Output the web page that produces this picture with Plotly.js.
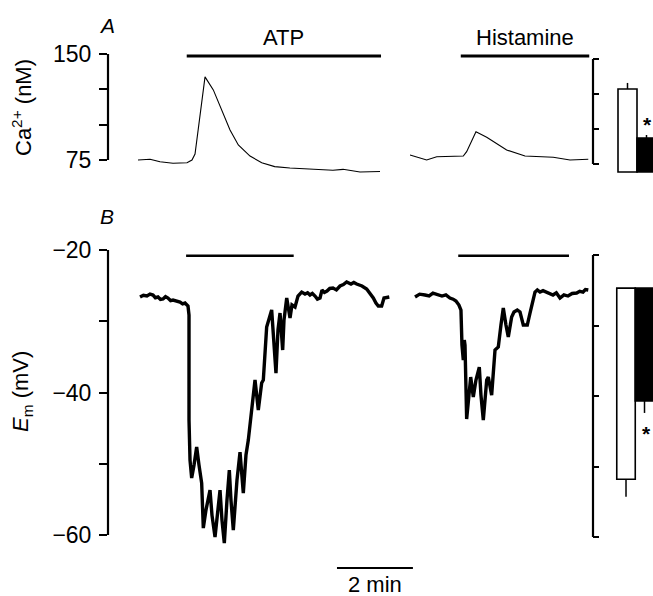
<!DOCTYPE html>
<html>
<head>
<meta charset="utf-8">
<script src="https://cdn.plot.ly/plotly-3.0.1.min.js"></script>
<style>html,body{margin:0;padding:0;background:#fff;}</style>
</head>
<body>
<div id="chart" style="width:653px;height:596px;"></div>
<script>
// ---- Panel A: [Ca2+]i (nM) vs time (s) ----
const tCaATP = [0, 19, 34.8, 55.3, 77.4, 85.3, 90.1, 98, 105.9, 119, 132.2, 145.4, 158.5, 177, 195.5, 216, 240, 276.5, 308, 324, 339.7, 350.8, 382.4];
const caATP  = [75.0, 75.5, 73.8, 72.7, 73.1, 75.0, 79.2, 105.4, 133.8, 124.6, 110.4, 96.2, 85.6, 77.8, 73.1, 70.3, 69.3, 68.4, 67.7, 68.4, 67.4, 66.5, 66.9];
const tCaHis = [429.8, 456.1, 472, 514, 519.3, 534, 551, 566.7, 582.5, 611.5, 656.2, 682.6, 711.5];
const caHis  = [78.5, 75.0, 77.3, 77.8, 80.9, 95.0, 91.1, 86.8, 82.1, 77.8, 76.9, 75.0, 75.5];

// ---- Panel B: Em (mV) vs time (s) ----
const tEmATP = [3.2, 8.5, 14.2, 19, 23.7, 27.5, 31.6, 35.5, 39.5, 43.5, 47.4, 51.5, 55.3, 61, 66.4, 70.5, 74.3, 79.0, 80.6, 80.6, 80.6, 82.2, 84.8, 88.5, 92.7, 96.4, 100.6, 103.2, 107.4, 113.8, 116.9, 121.7, 126.4, 129.6, 132.7, 136.4, 140.6, 144.3, 146.9, 150.6, 156.4, 161.2, 166.4, 170.6, 174.3, 179.6, 184.9, 190.1, 195.4, 198.0, 203.3, 211.2, 214.9, 218.0, 221.2, 224.4, 228.6, 230.7, 235.0, 240.2, 243.3, 248.1, 252.8, 258.6, 263.9, 268, 271.8, 275.5, 279.7, 283.5, 287.6, 290.7, 294.5, 298.6, 303, 308.1, 313.5, 319.2, 324.5, 329.7, 336.5, 341, 345.5, 350, 353.9, 361.3, 366.6, 371.8, 376.0, 379.7, 385.0, 388.7, 397.1];
const emATP  = [-26.60, -26.35, -26.46, -26.20, -26.32, -26.70, -26.60, -26.95, -26.88, -26.55, -26.74, -27.10, -27.02, -27.15, -27.30, -27.55, -27.44, -27.86, -29.13, -35.44, -43.87, -49.48, -52.01, -50.19, -47.66, -50.19, -52.71, -59.03, -56.50, -53.70, -57.21, -60.29, -56.50, -53.70, -57.91, -61.14, -55.10, -50.89, -55.10, -59.31, -52.29, -48.36, -54.12, -48.78, -46.68, -42.89, -38.25, -42.46, -38.67, -38.25, -30.81, -28.42, -34.04, -37.27, -31.23, -28.85, -34.04, -29.83, -26.74, -29.55, -27.72, -28.00, -26.46, -25.90, -26.18, -26.00, -26.32, -26.10, -26.46, -26.90, -26.74, -25.62, -25.95, -25.76, -25.40, -25.34, -25.60, -25.05, -24.85, -24.49, -24.77, -24.55, -24.77, -24.95, -25.05, -25.48, -26.04, -26.74, -27.44, -27.86, -27.86, -26.74, -26.60];
const tEmHis = [437.7, 445, 453.5, 460, 466.1, 473, 480.3, 486.5, 492.9, 498, 502.4, 507.1, 510.3, 511.9, 514.0, 515.6, 516.7, 519.3, 523.0, 525.7, 529.8, 534.0, 539.3, 541.9, 545.6, 551.0, 553.5, 558.8, 564.1, 569.3, 573.5, 577.2, 581.4, 585.1, 590.4, 594.1, 599.3, 603.6, 608.8, 615.1, 619.4, 627.3, 631, 635.2, 640, 645.7, 650, 655.7, 661, 666.8, 673, 679.4, 686, 693.1, 698, 703.1, 707, 711.5];
const emHis  = [-26.60, -26.20, -26.32, -26.45, -26.04, -26.30, -26.46, -26.30, -26.74, -26.90, -27.16, -27.72, -28.42, -33.34, -35.44, -32.64, -33.34, -43.73, -39.66, -37.83, -40.64, -38.25, -36.43, -40.36, -43.87, -38.25, -37.83, -40.36, -34.04, -33.62, -30.53, -28.14, -30.53, -32.21, -29.41, -28.70, -28.42, -28.70, -30.53, -30.53, -28.85, -25.90, -25.60, -25.90, -25.70, -25.90, -26.10, -26.32, -26.00, -26.74, -26.30, -26.46, -26.10, -26.04, -25.80, -25.90, -25.55, -25.62];

// ---- Agonist application periods (s) ----
const stimA_ATP = [77, 384];
const stimA_His = [510, 713];
const stimB_ATP = [76, 246];
const stimB_His = [506, 681];
const scaleBar = [314.4, 434.4];   // 2 min

// ---- Axis ticks ----
const caTicks = [75, 150];
const caMinor = [100, 125];
const emTicks = [-20, -40, -60];
const emMinor = [-30, -50];

// ---- Summary bars ----
const barCats   = ['ATP', 'Histamine'];
const caPeak    = [128.6, 93.6];
const caErr     = [4.3, 2.1];
const emPeak    = [-51.8, -40.7];
const emErr     = [2.5, 1.7];
const caBase = 69.3, emBase = -24.7;

const FONT = '"Liberation Sans", Arial, Helvetica, sans-serif';
const W = 653, H = 596;
const px = v => v / W, py = v => 1 - v / H;

const thin = {color: '#000', width: 1.1};
const thick = {color: '#000', width: 3.4};
const stimLine = {color: '#000', width: 3};

const data = [
  {x: tCaATP, y: caATP, xaxis: 'x', yaxis: 'y', mode: 'lines', line: thin, hoverinfo: 'skip'},
  {x: tCaHis, y: caHis, xaxis: 'x', yaxis: 'y', mode: 'lines', line: thin, hoverinfo: 'skip'},
  {x: tEmATP, y: emATP, xaxis: 'x', yaxis: 'y2', mode: 'lines', line: thick, hoverinfo: 'skip'},
  {x: tEmHis, y: emHis, xaxis: 'x', yaxis: 'y2', mode: 'lines', line: thick, hoverinfo: 'skip'},
  {x: stimA_ATP, y: [148.6, 148.6], xaxis: 'x', yaxis: 'y', mode: 'lines', line: stimLine},
  {x: stimA_His, y: [148.6, 148.6], xaxis: 'x', yaxis: 'y', mode: 'lines', line: stimLine},
  {x: stimB_ATP, y: [-20.8, -20.8], xaxis: 'x', yaxis: 'y2', mode: 'lines', line: {color: '#000', width: 2.6}},
  {x: stimB_His, y: [-20.8, -20.8], xaxis: 'x', yaxis: 'y2', mode: 'lines', line: {color: '#000', width: 2.6}},
  {type: 'bar', x: barCats, y: caPeak.map(v => v - caBase), base: [caBase, caBase], xaxis: 'x2', yaxis: 'y3',
   width: 1, marker: {color: ['#fff', '#000'], line: {color: '#000', width: 1.6}},
   error_y: {type: 'data', symmetric: false, array: caErr, arrayminus: [0, 0], color: '#000', thickness: 1.5, width: 0}},
  {type: 'bar', x: barCats, y: emPeak.map(v => v - emBase), base: [emBase, emBase], xaxis: 'x3', yaxis: 'y4',
   width: 1, marker: {color: ['#fff', '#000'], line: {color: '#000', width: 1.6}},
   error_y: {type: 'data', symmetric: false, array: [0, 0], arrayminus: emErr, color: '#000', thickness: 1.5, width: 0}}
];

const hidX = {visible: false, showgrid: false, zeroline: false};
const tickFont = {family: FONT, size: 23, color: '#000'};
const txt = s => ({family: FONT, size: s, color: '#000'});
const minorOut = vals => ({tickmode: 'array', tickvals: vals, ticks: 'outside', ticklen: 8, tickwidth: 2, tickcolor: '#000', showgrid: false});
const minorIn = vals => ({tickmode: 'array', tickvals: vals, ticks: 'inside', ticklen: 6, tickwidth: 2, tickcolor: '#000', showgrid: false});

const layout = {
  width: W, height: H,
  margin: {l: 0, r: 0, t: 0, b: 0},
  paper_bgcolor: '#fff', plot_bgcolor: 'rgba(0,0,0,0)',
  showlegend: false,
  font: {family: FONT, size: 20, color: '#000'},
  xaxis: Object.assign({domain: [px(108), px(600)], range: [-47.4, 730]}, hidX),
  xaxis2: Object.assign({domain: [px(593), 1], range: [-1.816, 1.342], anchor: 'y3'}, hidX),
  xaxis3: Object.assign({domain: [px(593), 1], range: [-1.784, 1.459], anchor: 'y4'}, hidX),
  yaxis: {domain: [py(180), py(40)], range: [60.85, 159.9], anchor: 'x',
    tickmode: 'array', tickvals: caTicks, ticktext: caTicks.map(String),
    ticks: 'outside', ticklen: 8, tickwidth: 2, tickcolor: '#000', tickfont: tickFont,
    minor: minorOut(caMinor),
    ticklabelstandoff: 3, showline: false, showgrid: false, zeroline: false},
  yaxis2: {domain: [py(555), py(230)], range: [-62.807, -17.193], anchor: 'x',
    tickmode: 'array', tickvals: emTicks, ticktext: emTicks.map(v => '\u2212' + Math.abs(v)),
    ticks: 'outside', ticklen: 8, tickwidth: 2, tickcolor: '#000', tickfont: tickFont,
    minor: minorOut(emMinor),
    ticklabelstandoff: 3, showline: false, showgrid: false, zeroline: false},
  yaxis3: {domain: [py(180), py(55)], range: [63.57, 152.86], anchor: 'x2',
    tickmode: 'array', tickvals: caTicks, showticklabels: false,
    ticks: 'inside', ticklen: 6, tickwidth: 2, tickcolor: '#000',
    minor: minorIn(caMinor),
    showline: false, showgrid: false, zeroline: false},
  yaxis4: {domain: [py(545), py(245)], range: [-61.13, -18.58], anchor: 'x3',
    tickmode: 'array', tickvals: emTicks, showticklabels: false,
    ticks: 'inside', ticklen: 6, tickwidth: 2, tickcolor: '#000',
    minor: minorIn(emMinor),
    showline: false, showgrid: false, zeroline: false},
  shapes: [
    {type: 'line', xref: 'paper', yref: 'y', x0: px(108), x1: px(108), y0: 75, y1: 150, line: {color: '#000', width: 2.2}},
    {type: 'line', xref: 'paper', yref: 'y2', x0: px(108), x1: px(108), y0: -60, y1: -20, line: {color: '#000', width: 2.2}},
    {type: 'line', xref: 'paper', yref: 'y3', x0: px(593), x1: px(593), y0: 75, y1: 150, line: {color: '#000', width: 2.2}},
    {type: 'line', xref: 'paper', yref: 'y4', x0: px(593), x1: px(593), y0: -60, y1: -20, line: {color: '#000', width: 2.2}},
    {type: 'line', xref: 'x', yref: 'paper', x0: scaleBar[0], x1: scaleBar[1], y0: py(568), y1: py(568), line: {color: '#000', width: 2.2}}
  ],
  annotations: [
    {text: '<i>A</i>', xref: 'paper', yref: 'paper', x: px(107), y: py(26), showarrow: false, xanchor: 'center', yanchor: 'middle', font: txt(21)},
    {text: '<i>B</i>', xref: 'paper', yref: 'paper', x: px(107), y: py(217), showarrow: false, xanchor: 'center', yanchor: 'middle', font: txt(21)},
    {text: 'Ca<sup>2+</sup> (nM)', xref: 'paper', yref: 'paper', x: px(22), y: py(108), textangle: -90, showarrow: false, xanchor: 'center', yanchor: 'middle', font: txt(22)},
    {text: '<i>E</i><sub>m</sub> (mV)', xref: 'paper', yref: 'paper', x: px(22), y: py(392), textangle: -90, showarrow: false, xanchor: 'center', yanchor: 'middle', font: txt(22)},
    {text: 'ATP', xref: 'x', yref: 'paper', x: (stimA_ATP[0] + stimA_ATP[1]) / 2, y: py(37), showarrow: false, xanchor: 'center', yanchor: 'middle', font: txt(22)},
    {text: 'Histamine', xref: 'x', yref: 'paper', x: (stimA_His[0] + stimA_His[1]) / 2, y: py(37), showarrow: false, xanchor: 'center', yanchor: 'middle', font: txt(22)},
    {text: '2 min', xref: 'x', yref: 'paper', x: (scaleBar[0] + scaleBar[1]) / 2, y: py(584), showarrow: false, xanchor: 'center', yanchor: 'middle', font: txt(22)},
    {text: '<b>*</b>', xref: 'paper', yref: 'paper', x: px(647), y: py(124), showarrow: false, xanchor: 'center', yanchor: 'middle', font: txt(21)},
    {text: '<b>*</b>', xref: 'paper', yref: 'paper', x: px(646), y: py(433), showarrow: false, xanchor: 'center', yanchor: 'middle', font: txt(21)}
  ]
};

Plotly.newPlot('chart', data, layout, {staticPlot: true, displayModeBar: false});
</script>
</body>
</html>
